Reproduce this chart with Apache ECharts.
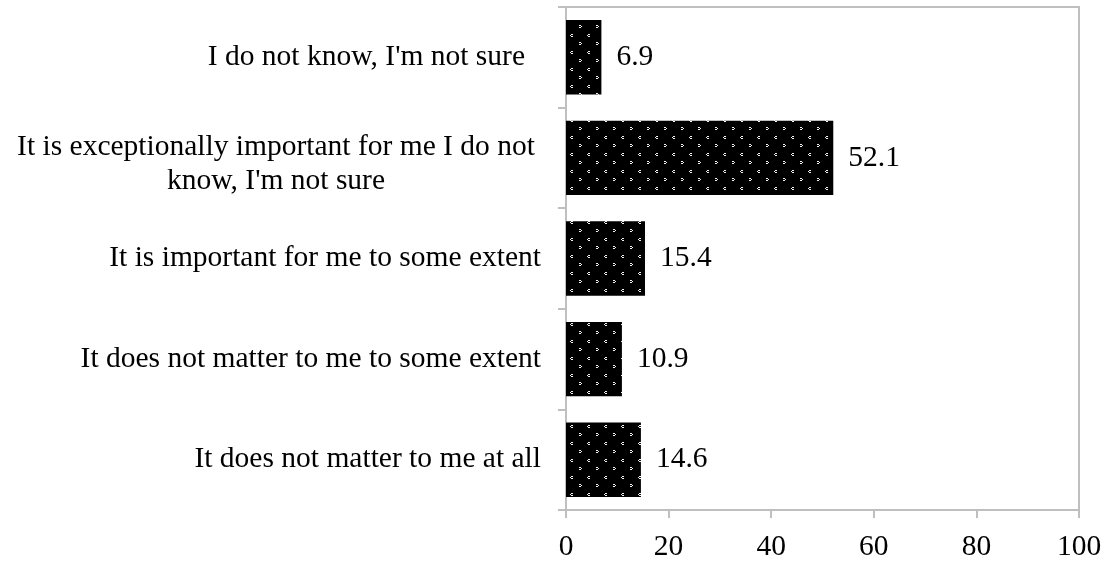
<!DOCTYPE html>
<html>
<head>
<meta charset="utf-8">
<script src="https://cdn.jsdelivr.net/npm/echarts@6/dist/echarts.min.js"></script>
<style>
  html, body { margin: 0; padding: 0; background: #fff; }
  #chart { width: 1107px; height: 570px; }
</style>
</head>
<body>
<div id="chart"></div>
<script>
// Survey answers, listed bottom to top as the category axis stacks them
const categories = [
  "It does not matter to me at all",
  "It does not matter to me to some extent",
  "It is important for me to some extent",
  "It is exceptionally important for me I do not\nknow, I'm not sure",
  "I do not know, I'm not sure"
];
const values = [14.6, 10.9, 15.4, 52.1, 6.9];
const xTicks = { min: 0, max: 100, interval: 20 };

// Black fill with small white chevron dots
function makeDotPattern() {
  const c = document.createElement('canvas');
  c.width = 17; c.height = 17;
  const g = c.getContext('2d');
  g.fillStyle = '#000';
  g.fillRect(0, 0, 17, 17);
  g.fillStyle = '#f2f2f2';
  // "<" mark
  g.fillRect(10, 0, 2, 1);
  g.fillRect(9, 1, 1, 1);
  g.fillRect(10, 2, 2, 1);
  // ">" mark
  g.fillRect(1, 8, 2, 1);
  g.fillRect(3, 9, 1, 1);
  g.fillRect(1, 10, 2, 1);
  return c;
}

const FONT = '"Liberation Serif", "Times New Roman", serif';
const FS = 29.5;
const gray = '#bfbfbf';

// Per-label offsets: the two-line answer sits a little lower, the top one a little further left
const yData = categories.map(function (name, i) {
  if (name.indexOf('\n') >= 0) {
    return { value: name, textStyle: { padding: [12, 0, 0, 0] } };
  }
  if (i === categories.length - 1) {
    return { value: name, textStyle: { padding: [0, 16, 0, 0] } };
  }
  return name;
});

const chart = echarts.init(document.getElementById('chart'), null, { renderer: 'canvas' });
chart.setOption({
  animation: false,
  backgroundColor: '#fff',
  grid: {
    left: 566, right: 28, top: 7, bottom: 60,
    show: true, borderColor: gray, borderWidth: 2, backgroundColor: 'transparent'
  },
  xAxis: {
    type: 'value',
    min: xTicks.min, max: xTicks.max, interval: xTicks.interval,
    splitLine: { show: false },
    axisLine: { show: true, lineStyle: { color: gray, width: 2 } },
    axisTick: { show: true, length: 8, lineStyle: { color: gray, width: 2 } },
    axisLabel: { color: '#000', fontFamily: FONT, fontSize: FS, margin: 22 }
  },
  yAxis: {
    type: 'category',
    data: yData,
    axisLine: { show: true, lineStyle: { color: gray, width: 2 } },
    axisTick: { show: true, length: 8, lineStyle: { color: gray, width: 2 } },
    axisLabel: {
      color: '#000', fontFamily: FONT, fontSize: FS, margin: 25, lineHeight: 34,
      formatter: function (v) {
        if (v.indexOf('\n') >= 0) {
          return v.split('\n').map(function (s) { return '{c|' + s + '}'; }).join('\n');
        }
        return v;
      },
      rich: {
        c: { width: 530, align: 'center', fontFamily: FONT, fontSize: FS, color: '#000', lineHeight: 34 }
      }
    }
  },
  series: [{
    type: 'bar',
    data: values,
    barCategoryGap: '26%',
    itemStyle: { color: { image: makeDotPattern(), repeat: 'repeat' } },
    label: {
      show: true, position: 'right', distance: 15,
      color: '#000', fontFamily: FONT, fontSize: FS,
      formatter: function (p) { return p.value.toFixed(1); }
    }
  }]
});
</script>
</body>
</html>
